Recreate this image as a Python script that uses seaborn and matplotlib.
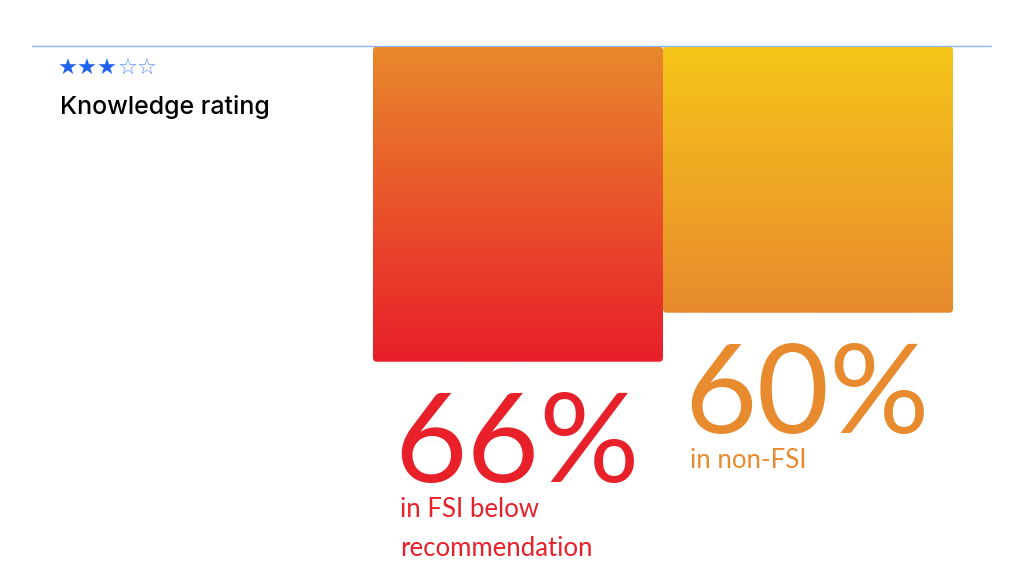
import numpy as np
import pandas as pd
import matplotlib
matplotlib.use("Agg")
import matplotlib.pyplot as plt
import seaborn as sns
from matplotlib.patches import FancyBboxPatch
from matplotlib.lines import Line2D
from matplotlib.colors import to_rgb

# data
groups = ["FSI", "non-FSI"]
shares = [66, 60]
value_labels = ["66%", "60%"]
captions = ["in FSI below\nrecommendation", "in non-FSI"]
top_colors = ["#e8892d", "#f6c519"]
bottom_colors = ["#e91e29", "#e88a2e"]
text_colors = ["#e8202a", "#e88a2e"]
rating = 3
rating_max = 5

sns.set_theme(style="white")
plt.rcParams["font.family"] = ["Lato", "DejaVu Sans"]

df = pd.DataFrame({"group": groups, "share": shares})

fig = plt.figure(figsize=(10.24, 5.76), dpi=100)
ax = fig.add_axes([373 / 1024, 0, 580 / 1024, 1 - 46.5 / 576])

base = 27.4          # value at the top edge of the axes
px_per_unit = 49 / 6
y_bottom = base + (576 - 46.5) / px_per_unit

sns.barplot(data=df, x="group", y="share", width=1.0, ax=ax, color="white")
ax.set_xlim(-0.5, 1.5)
ax.set_ylim(y_bottom, base)
ax.set_axis_off()

x_per_px = 2 / 580
y_per_px = 1 / px_per_unit
radius = 4 * x_per_px

for i, p in enumerate(ax.patches):
    x0, w, v = p.get_x(), p.get_width(), p.get_height()
    p.set_visible(False)
    box = FancyBboxPatch((x0, base), w, v - base,
                         boxstyle=f"round,pad=0,rounding_size={radius}",
                         mutation_aspect=y_per_px / x_per_px,
                         facecolor="none", edgecolor="none")
    ax.add_patch(box)
    c0 = np.array(to_rgb(top_colors[i]))
    c1 = np.array(to_rgb(bottom_colors[i]))
    t = np.linspace(0, 1, 256)[:, None, None]
    grad = c0 * (1 - t) + c1 * t
    im = ax.imshow(grad, extent=(x0, x0 + w, v, base), origin="upper",
                   aspect="auto", interpolation="bilinear", zorder=2)
    im.set_clip_path(box)

    ax.annotate(value_labels[i], xy=(x0, v), xytext=(21, -120),
                textcoords="offset pixels", ha="left", va="baseline",
                fontsize=90, color=text_colors[i], annotation_clip=False)
    ax.annotate(captions[i], xy=(x0, v), xytext=(27, -135),
                textcoords="offset pixels", ha="left", va="top",
                fontsize=18.5, color=text_colors[i], linespacing=1.72,
                annotation_clip=False)

ax.set_xlim(-0.5, 1.5)
ax.set_ylim(y_bottom, base)

# top rule
fig.add_artist(Line2D([32 / 1024, 991 / 1024], [1 - 46 / 576] * 2,
                      color="#8ab4f8", lw=1, zorder=0))

# rating stars and label
filled = fig.text(58 / 1024, 1 - 69 / 576, "★" * rating, fontsize=16,
                  color="#1e62f0", va="center", ha="left")
ax.annotate("☆" * (rating_max - rating), xy=(1, 0), xycoords=filled,
            ha="left", va="bottom", fontsize=16, color="#5b8ff5",
            annotation_clip=False)
fig.text(60 / 1024, 1 - 114 / 576, "Knowledge rating", fontsize=18,
         family=["Inter", "DejaVu Sans"], weight="medium",
         color="black", va="baseline", ha="left")

fig.savefig("out.png", dpi=100)
